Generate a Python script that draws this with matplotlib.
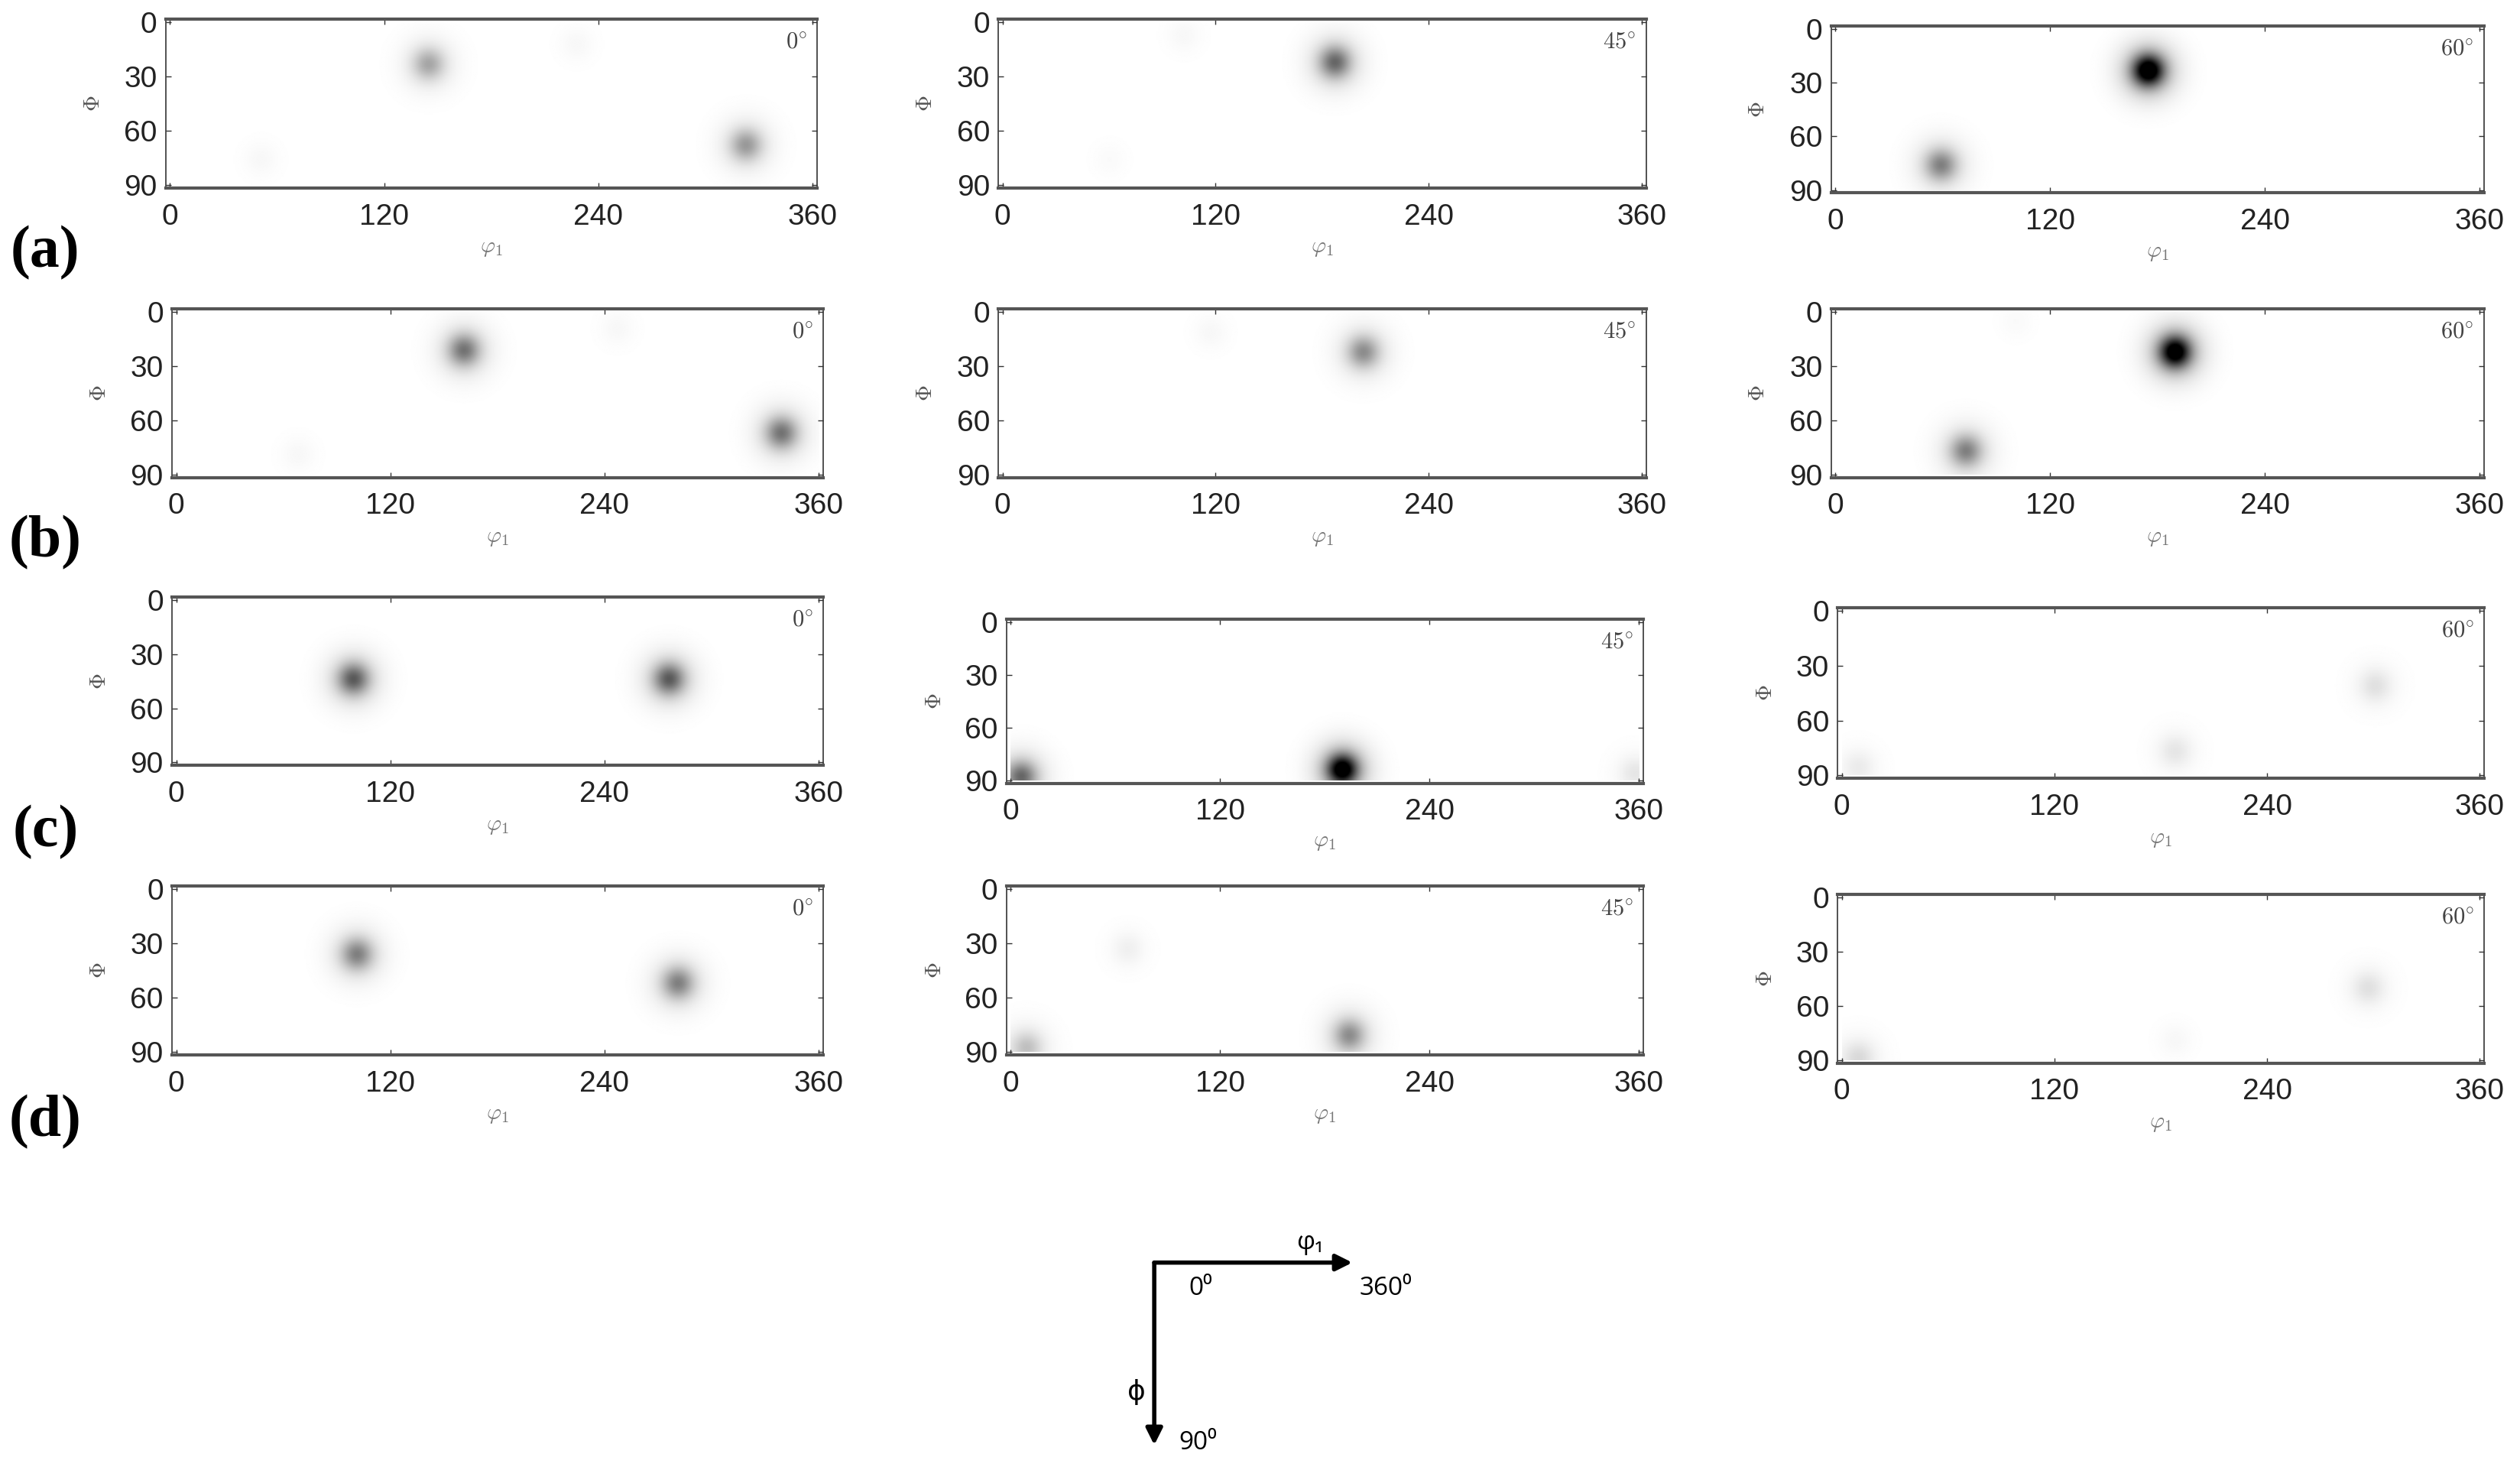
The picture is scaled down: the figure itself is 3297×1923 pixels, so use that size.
import numpy as np
import matplotlib.pyplot as plt
from matplotlib.patches import FancyArrowPatch

plt.rcParams['mathtext.fontset'] = 'cm'

# panel annotations
angles = ['0', '45', '60']
row_labels = ['(a)', '(b)', '(c)', '(d)']
phi1_ticks = [0, 120, 240, 360]
Phi_ticks = [0, 30, 60, 90]

# spot centres (phi1, Phi) and peak intensity, one inner list per column (0, 45, 60 deg)
a_phi1 = [[145, 323, 228, 51], [187, 102, 60], [175, 59]]
a_Phi = [[23, 68, 12, 76], [22, 7, 76], [23, 76]]
a_peak = [[0.35, 0.4, 0.03, 0.03], [0.6, 0.03, 0.02], [1.25, 0.5]]

b_phi1 = [[161, 339, 247, 68], [203, 117], [190, 73, 101]]
b_Phi = [[21, 67, 9, 79], [22, 11], [22, 77, 5]]
b_peak = [[0.55, 0.55, 0.03, 0.03], [0.45, 0.03], [1.2, 0.5, 0.02]]

c_phi1 = [[99, 276], [190, 6, 358], [301, 188, 9]]
c_Phi = [[44, 44], [84, 88, 86], [41, 77, 86]]
c_peak = [[0.65, 0.65], [1.2, 0.6, 0.1], [0.12, 0.1, 0.08]]

d_phi1 = [[101, 281], [67, 194, 9], [297, 9, 188]]
d_Phi = [[36, 52], [33, 81, 88], [50, 89, 79]]
d_peak = [[0.5, 0.5], [0.06, 0.45, 0.25], [0.12, 0.15, 0.03]]

rows_phi1 = [a_phi1, b_phi1, c_phi1, d_phi1]
rows_Phi = [a_Phi, b_Phi, c_Phi, d_Phi]
rows_peak = [a_peak, b_peak, c_peak, d_peak]

# axes rectangles in figure fraction
layout = [
    [[0.0657, 0.872, 0.2583, 0.1149], [0.396, 0.872, 0.257, 0.1149], [0.7264, 0.8687, 0.2589, 0.1138]],
    [[0.0682, 0.675, 0.2583, 0.1149], [0.396, 0.675, 0.257, 0.1149], [0.7264, 0.675, 0.2589, 0.1149]],
    [[0.0682, 0.4792, 0.2583, 0.1149], [0.3992, 0.4672, 0.2526, 0.1116], [0.729, 0.4705, 0.2564, 0.116]],
    [[0.0682, 0.2823, 0.2583, 0.1149], [0.3992, 0.2823, 0.2526, 0.1149], [0.729, 0.2768, 0.2564, 0.1149]],
]
label_y = [0.828, 0.631, 0.434, 0.237]

phi1 = np.linspace(0, 360, 721)
Phi = np.linspace(0, 90, 181)
P1, PH = np.meshgrid(phi1, Phi)


def odf_map(cx, cy, amp):
    # sharp core plus a wider halo, scaled so the peak equals amp
    z = np.zeros_like(P1)
    for x, y, a in zip(cx, cy, amp):
        r2 = (P1 - x) ** 2 + (PH - y) ** 2
        z += a * (np.exp(-r2 / 72.0) + 0.35 * np.exp(-r2 / 242.0)) / 1.35
    return z


fig = plt.figure(figsize=(32.98, 19.23), dpi=100)
tick_font = ['Liberation Sans', 'DejaVu Sans']

for r in range(4):
    for c in range(3):
        ax = fig.add_axes(layout[r][c])
        z = odf_map(rows_phi1[r][c], rows_Phi[r][c], rows_peak[r][c])
        ax.imshow(z, extent=[0, 360, 90, 0], aspect='auto', cmap='gray_r',
                  vmin=0, vmax=1, interpolation='bilinear')
        ax.set_xlim(-2.4, 362.4)
        ax.set_ylim(91.7, -1.7)
        ax.set_xticks(phi1_ticks)
        ax.set_yticks(Phi_ticks)
        ax.set_xticklabels([str(t) for t in phi1_ticks], family=tick_font, fontsize=28, color='#222222')
        ax.set_yticklabels([str(t) for t in Phi_ticks], family=tick_font, fontsize=28, color='#222222')
        ax.tick_params(direction='in', length=5, width=1, top=True, right=True, color='#333333')
        ax.tick_params(axis='x', pad=14)
        ax.tick_params(axis='y', pad=8)
        for s in ['top', 'bottom']:
            ax.spines[s].set_linewidth(3)
            ax.spines[s].set_color('#555555')
        for s in ['left', 'right']:
            ax.spines[s].set_linewidth(1.2)
            ax.spines[s].set_color('#333333')
        ax.set_xlabel(r'$\varphi_1$', fontsize=21, color='#777777')
        ax.xaxis.set_label_coords(0.5, -0.29)
        ax.set_ylabel(r'$\Phi$', fontsize=21, color='#555555')
        ax.yaxis.set_label_coords(-0.095, 0.5)
        ax.text(0.985, 0.93, r'$%s^{\circ}$' % angles[c], transform=ax.transAxes,
                ha='right', va='top', fontsize=22, color='#444444')
    fig.text(0.018, label_y[r], row_labels[r], fontsize=56, fontweight='bold',
             family='Liberation Serif', ha='center', va='center')

# orientation key
arrow_kw = dict(transform=fig.transFigure, arrowstyle='-|>', mutation_scale=32,
                lw=4, color='black', shrinkA=0, shrinkB=0)
fig.add_artist(FancyArrowPatch((0.4579, 0.1411), (0.5365, 0.1411), **arrow_kw))
fig.add_artist(FancyArrowPatch((0.4579, 0.1411), (0.4579, 0.017), **arrow_kw))

key_font = ['Open Sans', 'DejaVu Sans']
fig.text(0.5198, 0.1545, 'φ₁', fontsize=24, family=key_font, ha='center', va='center')
fig.text(0.4764, 0.1235, '0⁰', fontsize=24, family=key_font, ha='center', va='center')
fig.text(0.5497, 0.1235, '360⁰', fontsize=24, family=key_font, ha='center', va='center')
fig.text(0.4509, 0.0525, 'ϕ', fontsize=26, family=key_font, ha='center', va='center')
fig.text(0.4751, 0.0185, '90⁰', fontsize=24, family=key_font, ha='center', va='center')

fig.savefig('out.png', dpi=100, facecolor='white')
